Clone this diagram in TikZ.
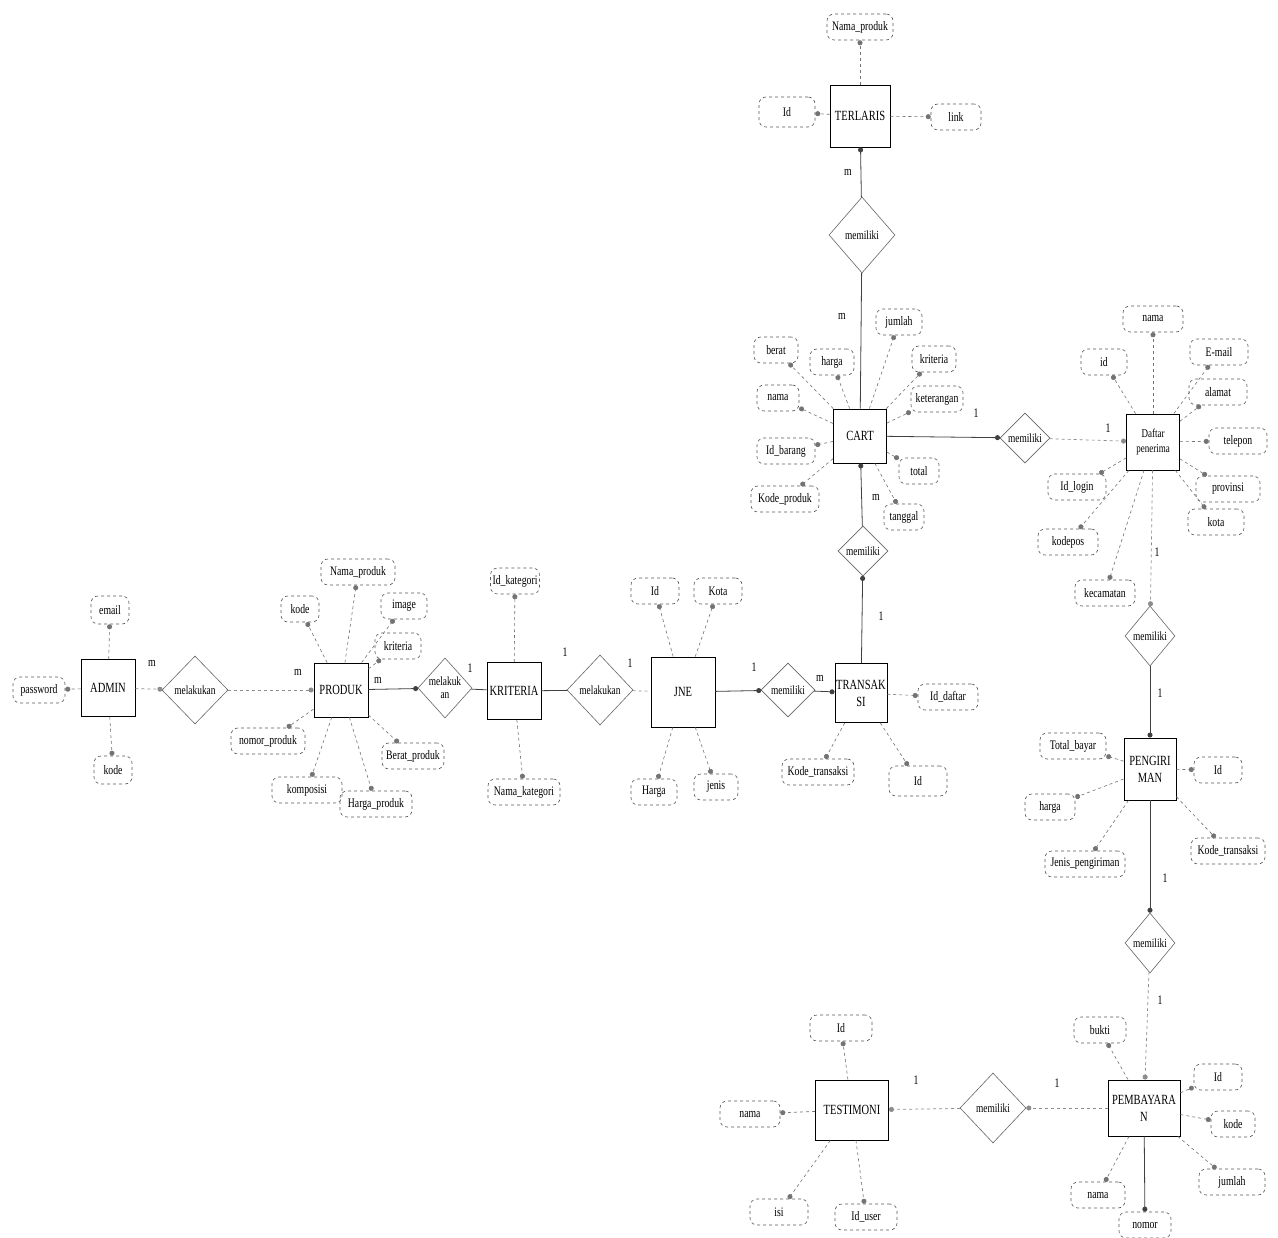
\documentclass[tikz,border=0pt]{standalone}
\usepackage{fontspec}
\setmainfont{Liberation Serif}
\newfontfamily\erfont{Liberation Serif}[FakeStretch=0.75]
\usetikzlibrary{shapes.geometric,arrows.meta}
\begin{document}
\begin{tikzpicture}[x=1pt,y=-1pt,
  attr/.style={draw=black!65, dashed, line width=0.6pt, rounded corners=7pt, minimum height=26pt, inner sep=2pt, font=\erfont\fontsize{13}{14}\selectfont},
  ent/.style={draw, line width=0.9pt, align=center, inner sep=1pt, font=\erfont\fontsize{14}{17}\selectfont},
  rel/.style={draw=black!60, diamond, line width=0.6pt, inner sep=0pt, align=center, font=\erfont\fontsize{12.5}{13}\selectfont},
  aline/.style={dashed, draw=black!55, line width=0.6pt, -{Circle[length=5pt]}},
  sline/.style={draw=black!75, line width=0.8pt},
  dline/.style={draw=black!45, dashed, line width=0.7pt},
  dotend/.style={-{Circle[length=5pt]}},
  card/.style={font=\erfont\fontsize{13}{14}\selectfont, inner sep=0pt}
]
\useasboundingbox[fill=white] (0,0) rectangle (1278,1238);

% ---------- entities ----------
\node[ent, minimum width=54pt, minimum height=57pt] (admin) at (108,688) {ADMIN};
\node[ent, minimum width=54pt, minimum height=54pt] (produk) at (341,690) {PRODUK};
\node[ent, minimum width=54pt, minimum height=57pt] (krit) at (514,691) {KRITERIA};
\node[ent, minimum width=64pt, minimum height=70pt] (jne) at (683,692) {JNE};
\node[ent, minimum width=52pt, minimum height=59pt] (trans) at (861,693) {TRANSAK\\SI};
\node[ent, minimum width=53pt, minimum height=54pt] (cart) at (860,436) {CART};
\node[ent, minimum width=60pt, minimum height=62pt] (terl) at (860,116) {TERLARIS};
\node[ent, minimum width=53pt, minimum height=56pt, font=\erfont\fontsize{12}{15}\selectfont] (daftar) at (1153,442) {Daftar\\penerima};
\node[ent, minimum width=52pt, minimum height=62pt] (peng) at (1150,769) {PENGIRI\\MAN};
\node[ent, minimum width=72pt, minimum height=56pt] (pemb) at (1144,1108) {PEMBAYARA\\N};
\node[ent, minimum width=73pt, minimum height=60pt] (testi) at (852,1110) {TESTIMONI};

% ---------- relationships ----------
\node[rel, minimum width=66pt, minimum height=68pt] (r1) at (195,690) {melakukan};
\node[rel, minimum width=50pt, minimum height=60pt] (r2) at (445,688) {melakuk\\an};
\node[rel, minimum width=66pt, minimum height=70pt] (r3) at (600,690) {melakukan};
\node[rel, minimum width=54pt, minimum height=54pt] (r4) at (788,690) {memiliki};
\node[rel, minimum width=50pt, minimum height=50pt] (r5) at (863,551) {memiliki};
\node[rel, minimum width=66pt, minimum height=76pt] (r6) at (862,235) {memiliki};
\node[rel, minimum width=50pt, minimum height=50pt] (r7) at (1025,438) {memiliki};
\node[rel, minimum width=50pt, minimum height=60pt] (r8) at (1150,636) {memiliki};
\node[rel, minimum width=50pt, minimum height=60pt] (r9) at (1150,943) {memiliki};
\node[rel, minimum width=66pt, minimum height=70pt] (r10) at (993,1108) {memiliki};

% ---------- attributes ----------
% TERLARIS
\node[attr, minimum width=66pt] (t1) at (860,27) {Nama\_produk};
\node[attr, minimum width=56pt, minimum height=30pt] (t2) at (787,112) {Id};
\node[attr, minimum width=50pt] (t3) at (956,117) {link};
% CART
\node[attr, minimum width=46pt] (c1) at (899,322) {jumlah};
\node[attr, minimum width=44pt] (c2) at (832,362) {harga};
\node[attr, minimum width=44pt] (c3) at (776,350) {berat};
\node[attr, minimum width=42pt] (c4) at (778,398) {nama};
\node[attr, minimum width=44pt] (c5) at (934,359) {kriteria};
\node[attr, minimum width=52pt] (c6) at (937,399) {keterangan};
\node[attr, minimum width=58pt] (c7) at (786,451) {Id\_barang};
\node[attr, minimum width=68pt] (c8) at (785,499) {Kode\_produk};
\node[attr, minimum width=40pt] (c9) at (919,471) {total};
\node[attr, minimum width=40pt] (c10) at (904,517) {tanggal};
% Daftar penerima
\node[attr, minimum width=60pt] (d1) at (1153,319) {nama};
\node[attr, minimum width=46pt] (d2) at (1104,362) {id};
\node[attr, minimum width=58pt] (d3) at (1219,352) {E-mail};
\node[attr, minimum width=58pt] (d4) at (1218,392) {alamat};
\node[attr, minimum width=58pt] (d5) at (1238,441) {telepon};
\node[attr, minimum width=64pt] (d6) at (1228,489) {provinsi};
\node[attr, minimum width=56pt] (d7) at (1216,522) {kota};
\node[attr, minimum width=58pt] (d8) at (1077,487) {Id\_login};
\node[attr, minimum width=60pt] (d9) at (1068,542) {kodepos};
\node[attr, minimum width=60pt] (d10) at (1105,593) {kecamatan};
% ADMIN
\node[attr, minimum width=38pt, minimum height=28pt] (a1) at (110,610) {email};
\node[attr, minimum width=52pt] (a2) at (39,690) {password};
\node[attr, minimum width=38pt, minimum height=28pt] (a3) at (113,770) {kode};
% PRODUK
\node[attr, minimum width=74pt] (p1) at (358,572) {Nama\_produk};
\node[attr, minimum width=38pt] (p2) at (300,609) {kode};
\node[attr, minimum width=46pt] (p3) at (404,606) {image};
\node[attr, minimum width=46pt] (p4) at (398,646) {kriteria};
\node[attr, minimum width=74pt] (p5) at (268,741) {nomor\_produk};
\node[attr, minimum width=62pt] (p6) at (413,756) {Berat\_produk};
\node[attr, minimum width=70pt] (p7) at (307,790) {komposisi};
\node[attr, minimum width=72pt] (p8) at (376,804) {Harga\_produk};
% KRITERIA
\node[attr, minimum width=48pt] (k1) at (515,581) {Id\_kategori};
\node[attr, minimum width=72pt] (k2) at (524,792) {Nama\_kategori};
% JNE
\node[attr, minimum width=48pt] (j1) at (655,591) {Id};
\node[attr, minimum width=48pt] (j2) at (718,591) {Kota};
\node[attr, minimum width=46pt] (j3) at (654,792) {Harga};
\node[attr, minimum width=44pt] (j4) at (716,787) {jenis};
% TRANSAKSI
\node[attr, minimum width=60pt] (s1) at (948,697) {Id\_daftar};
\node[attr, minimum width=72pt] (s2) at (818,772) {Kode\_transaksi};
\node[attr, minimum width=58pt, minimum height=30pt] (s3) at (918,781) {Id};
% PENGIRIMAN
\node[attr, minimum width=66pt] (g1) at (1073,746) {Total\_bayar};
\node[attr, minimum width=50pt] (g2) at (1050,807) {harga};
\node[attr, minimum width=80pt] (g3) at (1085,864) {Jenis\_pengiriman};
\node[attr, minimum width=74pt] (g4) at (1228,851) {Kode\_transaksi};
\node[attr, minimum width=48pt] (g5) at (1218,770) {Id};
% PEMBAYARAN
\node[attr, minimum width=52pt] (b1) at (1100,1030) {bukti};
\node[attr, minimum width=48pt] (b2) at (1218,1077) {Id};
\node[attr, minimum width=44pt] (b3) at (1233,1124) {kode};
\node[attr, minimum width=66pt] (b4) at (1232,1182) {jumlah};
\node[attr, minimum width=54pt] (b5) at (1098,1195) {nama};
\node[attr, minimum width=52pt] (b6) at (1145,1225) {nomor};
% TESTIMONI
\node[attr, minimum width=62pt] (e1) at (841,1028) {Id};
\node[attr, minimum width=60pt] (e2) at (750,1114) {nama};
\node[attr, minimum width=58pt] (e3) at (779,1212) {isi};
\node[attr, minimum width=62pt] (e4) at (866,1217) {Id\_user};

% ---------- attribute lines ----------
\foreach \e/\a in {terl/t1,terl/t2,terl/t3,
  cart/c1,cart/c2,cart/c3,cart/c4,cart/c5,cart/c6,cart/c7,cart/c8,cart/c9,cart/c10,
  daftar/d1,daftar/d2,daftar/d3,daftar/d4,daftar/d5,daftar/d6,daftar/d7,daftar/d8,daftar/d9,daftar/d10,
  admin/a1,admin/a2,admin/a3,
  produk/p1,produk/p2,produk/p3,produk/p4,produk/p5,produk/p6,produk/p7,produk/p8,
  krit/k1,krit/k2,jne/j1,jne/j2,jne/j3,jne/j4,
  trans/s1,trans/s2,trans/s3,
  peng/g1,peng/g2,peng/g3,peng/g4,peng/g5,
  pemb/b1,pemb/b2,pemb/b3,pemb/b4,pemb/b5,
  testi/e1,testi/e2,testi/e3,testi/e4}
  \draw[aline] (\e) -- (\a);
\draw[sline, dotend] (pemb) -- (b6);

% ---------- relationship lines ----------
\draw[dline, dotend] (admin) -- (r1);
\draw[dline, dotend] (r1) -- (produk);
\draw[sline, dotend] (produk) -- (r2);
\draw[sline] (r2) -- (krit);
\draw[sline] (krit) -- (r3);
\draw[dline] (r3) -- (jne);
\draw[sline, dotend] (jne) -- (r4);
\draw[sline, dotend] (r4) -- (trans);
\draw[sline, dotend] (trans) -- (r5);
\draw[sline, dotend] (r5) -- (cart);
\draw[sline] (cart) -- (r6);
\draw[sline, dotend] (r6) -- (terl);
\draw[sline, dotend] (cart) -- (r7);
\draw[dline, dotend] (r7) -- (daftar);
\draw[dline, dotend] (daftar) -- (r8);
\draw[sline, dotend] (r8) -- (peng);
\draw[sline, dotend] (peng) -- (r9);
\draw[dline, dotend] (r9) -- (pemb);
\draw[dline, dotend] (pemb) -- (r10);
\draw[dline, dotend] (r10) -- (testi);

% ---------- cardinalities ----------
\node[card] (m1) at (152,663) {m};
\node[card] (m2) at (298,672) {m};
\node[card] (m3) at (378,680) {m};
\node[card] (m4) at (470,668) {1};
\node[card] (m5) at (565,652) {1};
\node[card] (m6) at (630,663) {1};
\node[card] (m7) at (754,667) {1};
\node[card] (m8) at (820,678) {m};
\node[card] (m9) at (876,497) {m};
\node[card] (m10) at (881,616) {1};
\node[card] (m11) at (848,172) {m};
\node[card] (m12) at (842,316) {m};
\node[card] (m13) at (976,413) {1};
\node[card] (m14) at (1108,428) {1};
\node[card] (m15) at (1157,552) {1};
\node[card] (m16) at (1160,693) {1};
\node[card] (m17) at (1165,878) {1};
\node[card] (m18) at (1160,1000) {1};
\node[card] (m19) at (916,1080) {1};
\node[card] (m20) at (1057,1083) {1};
\end{tikzpicture}
\end{document}
